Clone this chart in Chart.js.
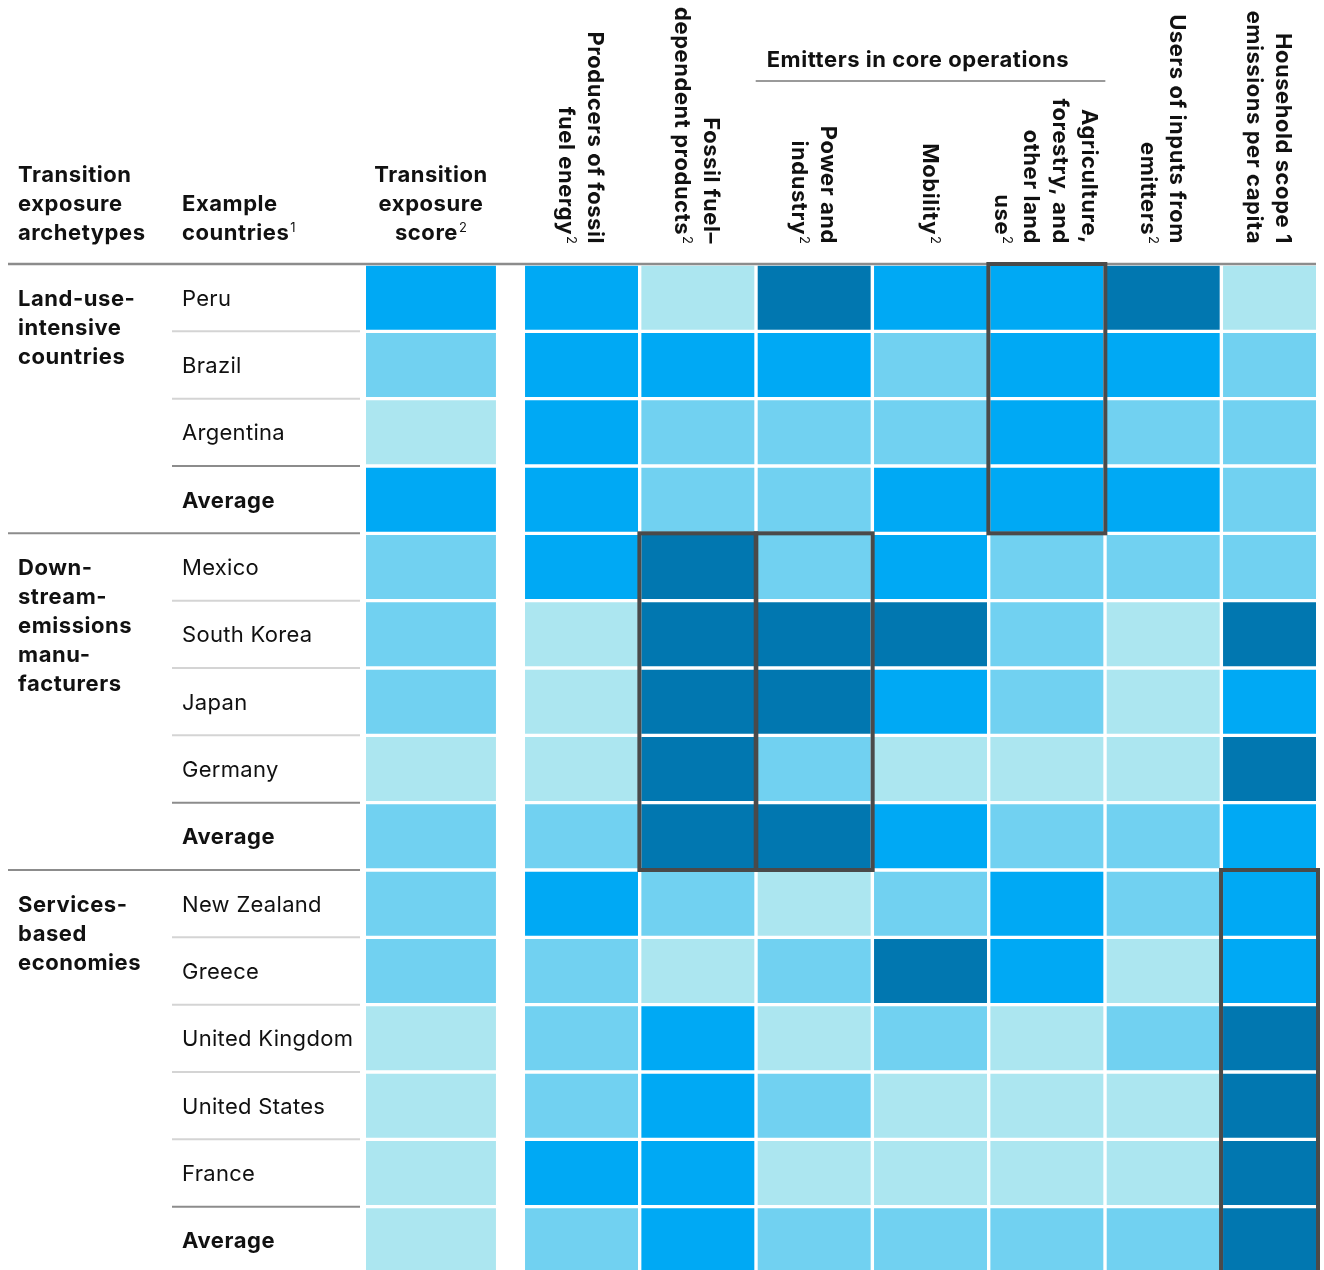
<!DOCTYPE html>
<html>
<head>
<meta charset="utf-8">
<script src="https://cdn.jsdelivr.net/npm/chart.js@4.4.1/dist/chart.umd.min.js"></script>
<style>
  html, body { margin: 0; padding: 0; background: #fff; overflow: hidden; }
  #wrap { position: relative; width: 1324px; height: 1274px; }
</style>
</head>
<body>
<div id="wrap"><canvas id="heat"></canvas></div>
<script>
// rows (countries) and the archetype each block belongs to
const countries = ['Peru', 'Brazil', 'Argentina', 'Average',
  'Mexico', 'South Korea', 'Japan', 'Germany', 'Average',
  'New Zealand', 'Greece', 'United Kingdom', 'United States', 'France', 'Average'];
const archetypes = [['Land-use-', 'intensive', 'countries'],
  ['Down-', 'stream-', 'emissions', 'manu-', 'facturers'],
  ['Services-', 'based', 'economies']];
const archetypeRows = [4, 5, 6];

// exposure level per cell: 1 = low (lightest) ... 4 = high (darkest)
const score           = [3, 2, 1, 3,  2, 2, 2, 1, 2,  2, 2, 1, 1, 1, 1];
const producers       = [3, 3, 3, 3,  3, 1, 1, 1, 2,  3, 2, 2, 2, 3, 2];
const fossilDependent = [1, 3, 2, 2,  4, 4, 4, 4, 4,  2, 1, 3, 3, 3, 3];
const powerIndustry   = [4, 3, 2, 2,  2, 4, 4, 2, 4,  1, 2, 1, 2, 1, 2];
const mobility        = [3, 2, 2, 3,  3, 4, 3, 1, 3,  2, 4, 2, 1, 1, 2];
const agriculture     = [3, 3, 3, 3,  2, 2, 2, 1, 2,  3, 3, 1, 1, 1, 2];
const usersOfInputs   = [4, 3, 2, 3,  2, 1, 1, 1, 2,  2, 1, 2, 1, 1, 2];
const household       = [1, 2, 2, 2,  2, 4, 3, 4, 3,  3, 3, 4, 4, 4, 4];

// column headers (rotated ones) and the footnote marks
const sectorHeaders = [
  ['Producers of fossil', 'fuel energy'],
  ['Fossil fuel\u2013', 'dependent products'],
  ['Power and', 'industry'],
  ['Mobility'],
  ['Agriculture,', 'forestry, and', 'other land', 'use'],
  ['Users of inputs from', 'emitters'],
  ['Household scope 1', 'emissions per capita']
];
const sectorNotes = ['2', '2', '2', '2', '2', '2', ''];
const sectorSeries = [producers, fossilDependent, powerIndustry, mobility, agriculture, usersOfInputs, household];

// highlighted blocks: column index (0 = score), first row, last row
const highlights = [[5, 0, 3], [2, 4, 8], [3, 4, 8], [7, 9, 14]];

const palette = ['#ACE6F0', '#71D1F1', '#00A9F4', '#0177B0'];

// column geometry in "column" units
const SCORE_W = 1.117, FIRST_COL = 1.367, CELL_W = 0.971, X_MAX = 8.166;
const colRange = i => i === 0 ? [0, SCORE_W]
  : [FIRST_COL + i - 1, Math.min(FIRST_COL + i - 1 + CELL_W, X_MAX)];

const allSeries = [score, ...sectorSeries];
const datasets = allSeries.map((s, i) => ({
  label: i === 0 ? 'Transition exposure score' : sectorHeaders[i - 1].join(' '),
  data: s.map(() => colRange(i)),
  backgroundColor: s.map(v => palette[v - 1]),
  borderWidth: 0,
  grouped: false,
  barPercentage: 0.951,
  categoryPercentage: 1
}));

const FONT = 'Inter, "Open Sans", sans-serif';
const BOLD = 700;

function supText(ctx, text, sup, x, y, align, weight) {
  const spacing = weight === BOLD ? '0.55px' : '0.3px';
  ctx.letterSpacing = spacing;
  ctx.font = `${weight} 22px ${FONT}`;
  const w = ctx.measureText(text).width;
  ctx.letterSpacing = '0px';
  ctx.font = `400 13px ${FONT}`;
  const sw = sup ? ctx.measureText(sup).width + 1 : 0;
  let left = x;
  if (align === 'center') left = x - (w + sw) / 2;
  else if (align === 'right') left = x - w - sw;
  ctx.textAlign = 'left';
  ctx.letterSpacing = spacing;
  ctx.font = `${weight} 22px ${FONT}`;
  ctx.fillText(text, left, y);
  ctx.letterSpacing = '0px';
  if (sup) {
    ctx.font = `400 13px ${FONT}`;
    ctx.fillText(sup, left + w + 1, y - 8);
  }
}

const tablePlugin = {
  id: 'tableText',
  afterDatasetsDraw(chart) {
    const { ctx, scales: { x, y }, chartArea } = chart;
    const rowC = i => y.getPixelForValue(i);
    const rowEdge = i => (rowC(i) + rowC(i + 1)) / 2;
    ctx.save();
    ctx.fillStyle = '#111';
    ctx.textBaseline = 'alphabetic';

    // left-hand header
    ['Transition', 'exposure', 'archetypes'].forEach((t, i) => supText(ctx, t, '', 18, 182 + i * 29, 'left', BOLD));
    supText(ctx, 'Example', '', 182, 211, 'left', BOLD);
    supText(ctx, 'countries', '1', 182, 240, 'left', BOLD);
    const scoreMid = (x.getPixelForValue(0) + x.getPixelForValue(SCORE_W)) / 2;
    ['Transition', 'exposure', 'score'].forEach((t, i) =>
      supText(ctx, t, i === 2 ? '2' : '', scoreMid, 182 + i * 29, 'center', BOLD));

    // rotated sector headers
    sectorHeaders.forEach((lines, k) => {
      const [a, b] = colRange(k + 1);
      const cx = (x.getPixelForValue(a) + x.getPixelForValue(b)) / 2;
      const n = lines.length;
      ctx.save();
      ctx.translate(cx, 244);
      ctx.rotate(Math.PI / 2);
      lines.forEach((t, i) => {
        const ly = (i - (n - 1) / 2) * 29 + 8;
        supText(ctx, t, i === n - 1 ? sectorNotes[k] : '', 0, ly, 'right', BOLD);
      });
      ctx.restore();
    });

    // "Emitters in core operations" bracket
    const eL = x.getPixelForValue(colRange(3)[0]) - 2;
    const eR = x.getPixelForValue(colRange(5)[1]) + 2;
    supText(ctx, 'Emitters in core operations', '', eL + 11, 67, 'left', BOLD);
    ctx.strokeStyle = '#9a9a9a';
    ctx.lineWidth = 2;
    ctx.beginPath(); ctx.moveTo(eL, 81); ctx.lineTo(eR, 81); ctx.stroke();

    // top rule
    ctx.strokeStyle = '#8c8c8c';
    ctx.lineWidth = 2.5;
    ctx.beginPath(); ctx.moveTo(8, chartArea.top); ctx.lineTo(chartArea.right, chartArea.top); ctx.stroke();

    // row labels and separators
    let r = 0;
    archetypes.forEach((lines, g) => {
      const n = archetypeRows[g];
      lines.forEach((t, i) => supText(ctx, t, '', 18, rowC(r) + 8 + i * 29, 'left', BOLD));
      for (let j = 0; j < n; j++) {
        const row = r + j;
        const isAvg = j === n - 1;
        supText(ctx, countries[row], '', 182, rowC(row) + 8, 'left', isAvg ? BOLD : 400);
        if (j < n - 1) {
          ctx.strokeStyle = j === n - 2 ? '#8c8c8c' : '#d4d4d4';
          ctx.lineWidth = 2;
          const ey = rowEdge(row);
          ctx.beginPath(); ctx.moveTo(172, ey); ctx.lineTo(360, ey); ctx.stroke();
        }
      }
      r += n;
      if (r < countries.length) {
        const ey = rowEdge(r - 1);
        ctx.strokeStyle = '#8c8c8c';
        ctx.lineWidth = 2;
        ctx.beginPath(); ctx.moveTo(8, ey); ctx.lineTo(360, ey); ctx.stroke();
      }
    });

    // highlight boxes
    ctx.strokeStyle = '#4a4a4a';
    ctx.lineWidth = 4;
    highlights.forEach(([c, r0, r1]) => {
      const [a, b] = colRange(c);
      const left = x.getPixelForValue(a) - 2;
      const right = c === 7 ? chartArea.right + 2 : x.getPixelForValue(b) + 2;
      const top = r0 === 0 ? chartArea.top : rowEdge(r0 - 1);
      const bottom = r1 === countries.length - 1 ? chartArea.bottom + 4 : rowEdge(r1);
      ctx.strokeRect(left, top, right - left, bottom - top);
    });
    ctx.restore();
  }
};

new Chart(document.getElementById('heat'), {
  type: 'bar',
  data: { labels: countries, datasets },
  options: {
    indexAxis: 'y',
    responsive: true,
    maintainAspectRatio: false,
    animation: false,
    events: [],
    layout: { padding: { left: 366, top: 264, right: 8, bottom: 0 } },
    plugins: { legend: { display: false }, tooltip: { enabled: false } },
    scales: {
      x: { type: 'linear', min: 0, max: X_MAX, display: false },
      y: { type: 'category', offset: true, display: false }
    }
  },
  plugins: [tablePlugin]
});
</script>
</body>
</html>
